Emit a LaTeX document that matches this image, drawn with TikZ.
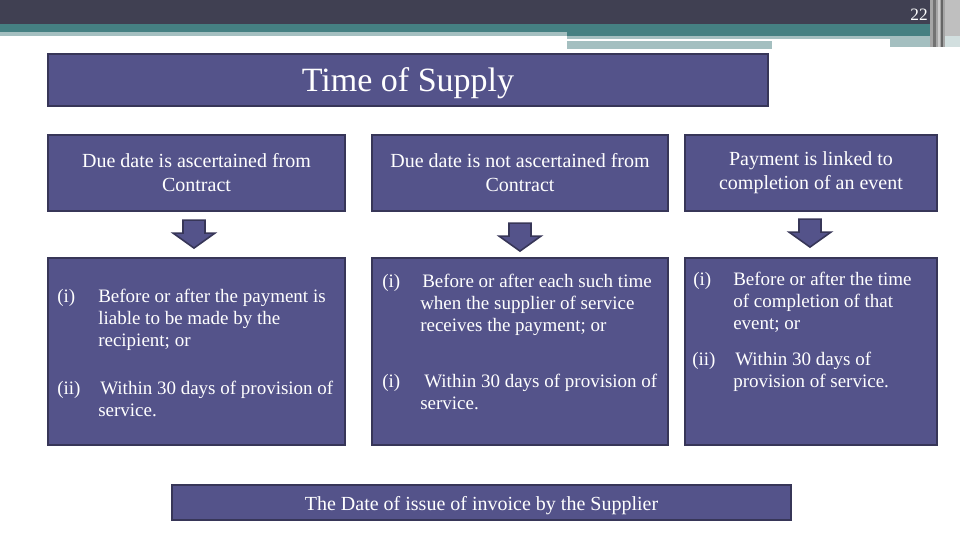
\documentclass[tikz,border=0pt]{standalone}
\usepackage{fontspec}
\setmainfont{Liberation Serif}
\usetikzlibrary{calc}
\definecolor{topdark}{RGB}{64,64,82}
\definecolor{topteal}{RGB}{69,128,130}
\definecolor{toplight}{RGB}{164,191,192}
\definecolor{boxfill}{RGB}{84,83,138}
\definecolor{boxline}{RGB}{55,54,88}
\tikzset{
  bluebox/.style={draw=boxline, fill=boxfill, line width=1.6pt, inner sep=0pt, text=white, align=center},
  hdrtext/.style={font=\fontsize{15}{18}\selectfont},
  listtext/.style={text=white, inner sep=0pt, anchor=base west, font=\fontsize{14.25}{17}\selectfont},
  arrowshape/.style={draw=boxline, fill=boxfill, line width=1.2pt, line join=miter},
  blockarr/.pic={\path[arrowshape] (-11,0) -- (11,0) -- (11,13) -- (21,13) -- (0,28) -- (-21,13) -- (-11,13) -- cycle;}
}
\begin{document}
\begin{tikzpicture}[x=0.75pt, y=-0.75pt]
\useasboundingbox (0,0) rectangle (960,540);
% header decoration
\fill[topdark] (0,0) rectangle (930,24);
\fill[topteal] (0,24) rectangle (930,32);
\fill[topteal] (567,32) rectangle (930,36);
\fill[toplight] (0,32) rectangle (567,36);
\fill[toplight] (567,36) rectangle (930,39);
\fill[toplight] (567,41) rectangle (772,49);
\fill[toplight] (890,39) rectangle (930,47);
\fill[black!35] (930,0) rectangle (945,47);
\fill[black!55] (933,0) rectangle (936,47);
\fill[black!20] (938,0) rectangle (940,47);
\fill[black!60] (941,0) rectangle (943,47);
\fill[black!25] (945,0) rectangle (960,36);
\fill[toplight!50] (945,36) rectangle (960,47);
\node[text=white, inner sep=0pt, anchor=base, font=\fontsize{13}{15}\selectfont] (pgno) at (919,20) {22};
% title
\node[bluebox, minimum width=720*0.75pt, minimum height=52*0.75pt, text height=16.5pt, text depth=0pt, font=\fontsize{25.5}{30}\selectfont] (title) at (408,80) {Time of Supply};
% headers
\node[bluebox, hdrtext, minimum width=297*0.75pt, minimum height=76*0.75pt] (h1) at (196.5,173) {Due date is ascertained from\\Contract};
\node[bluebox, hdrtext, minimum width=296*0.75pt, minimum height=76*0.75pt] (h2) at (520,173) {Due date is not ascertained from\\Contract};
\node[bluebox, hdrtext, minimum width=252*0.75pt, minimum height=76*0.75pt] (h3) at (811,173) {Payment is linked to\\completion of an event};
% content boxes
\node[bluebox, minimum width=297*0.75pt, minimum height=187*0.75pt] (c1) at (196.5,351.5) {};
\node[bluebox, minimum width=296*0.75pt, minimum height=187*0.75pt] (c2) at (520,351.5) {};
\node[bluebox, minimum width=252*0.75pt, minimum height=187*0.75pt] (c3) at (811,351.5) {};
% arrows
\pic at ($(h1.south)+(-2.5,8)$) {blockarr};
\pic at ($(h2.south)+(0,11)$) {blockarr};
\pic at ($(h3.south)+(-1,7)$) {blockarr};
% box 1 text
\node[listtext] (c1ia) at (57,302) {(i)};
\node[listtext] (c1ib) at (98,302) {Before or after the payment is};
\node[listtext] (c1ic) at (98,324) {liable to be made by the};
\node[listtext] (c1id) at (98,346) {recipient; or};
\node[listtext] (c1iia) at (57,394) {(ii)};
\node[listtext] (c1iib) at (100,394) {Within 30 days of provision of};
\node[listtext] (c1iic) at (98,416) {service.};
% box 2 text
\node[listtext] (c2ia) at (382,287) {(i)};
\node[listtext] (c2ib) at (422,287) {Before or after each such time};
\node[listtext] (c2ic) at (420,309) {when the supplier of service};
\node[listtext] (c2id) at (420,331) {receives the payment; or};
\node[listtext] (c2iia) at (382,387) {(i)};
\node[listtext] (c2iib) at (424,387) {Within 30 days of provision of};
\node[listtext] (c2iic) at (420,409) {service.};
% box 3 text
\node[listtext] (c3ia) at (693,285) {(i)};
\node[listtext] (c3ib) at (733,285) {Before or after the time};
\node[listtext] (c3ic) at (733,307) {of completion of that};
\node[listtext] (c3id) at (733,329) {event; or};
\node[listtext] (c3iia) at (692,365) {(ii)};
\node[listtext] (c3iib) at (735,365) {Within 30 days of};
\node[listtext] (c3iic) at (733,387) {provision of service.};
% bottom
\node[bluebox, hdrtext, minimum width=619*0.75pt, minimum height=35*0.75pt, text height=12pt, text depth=0pt] (bottom) at (481.5,502.5) {The Date of issue of invoice by the Supplier};
\end{tikzpicture}
\end{document}
